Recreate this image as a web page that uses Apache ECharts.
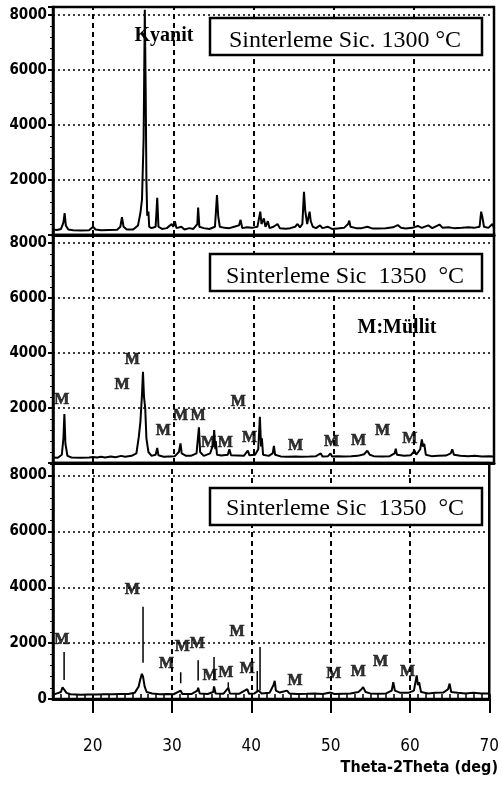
<!DOCTYPE html>
<html>
<head>
<meta charset="utf-8">
<script src="https://cdn.jsdelivr.net/npm/echarts@6/dist/echarts.min.js"></script>
<style>
  html, body { margin: 0; padding: 0; background: #fff; }
  #chart { width: 502px; height: 786px; }
</style>
</head>
<body>
<div id="chart"></div>
<script>
// 2θ range and tick values
const thetaMin = 15;
const thetaMax = 70;
const xTickValues = [20, 30, 40, 50, 60, 70];
const xGridValues = [20, 30, 40, 50, 60];
const yTickValues = [0, 2000, 4000, 6000, 8000];

// XRD scan, sintered at 1300 °C: [2θ (deg), counts]
const scan1300 = [
  [15.0,200],[15.5,180],[16.0,220],[16.3,450],[16.45,800],[16.6,350],[16.9,200],[17.5,170],[18.5,160],[19.5,170],
  [20.0,300],[20.3,200],[21.0,170],[22.0,180],[23.0,190],[23.4,300],[23.6,650],[23.8,300],[24.2,200],[25.0,200],
  [25.6,350],[25.9,800],[26.1,1300],[26.3,3500],[26.45,8200],[26.55,5500],[26.65,2000],[26.75,700],[26.9,850],[27.0,300],
  [27.3,250],[27.8,300],[28.0,1350],[28.15,300],[28.6,220],[29.2,250],[29.8,400],[30.0,300],[30.2,500],[30.4,250],
  [31.0,300],[31.4,200],[32.0,250],[32.5,220],[33.0,400],[33.1,1000],[33.25,300],[33.8,250],[34.5,220],[35.2,300],
  [35.45,1450],[35.6,700],[35.8,300],[36.4,260],[37.0,250],[37.6,300],[38.2,350],[38.4,550],[38.6,250],[39.2,280],
  [39.8,260],[40.5,300],[40.85,850],[41.0,400],[41.3,600],[41.5,300],[41.8,500],[42.0,250],[42.5,300],[43.0,400],
  [43.3,250],[44.0,230],[44.6,250],[45.2,300],[45.5,400],[45.8,280],[46.1,400],[46.3,1570],[46.45,900],[46.7,400],
  [47.0,850],[47.15,500],[47.4,300],[47.8,250],[48.3,350],[48.6,250],[49.3,300],[49.8,220],[50.5,240],[51.3,260],
  [51.8,400],[51.95,520],[52.1,300],[52.8,250],[53.5,250],[54.2,300],[54.8,240],[55.5,240],[56.5,250],[57.4,280],
  [58.0,360],[58.4,260],[59.0,240],[59.8,260],[60.5,330],[61.0,260],[61.8,350],[62.3,250],[63.2,380],[63.6,260],
  [64.3,280],[65.0,250],[66.0,260],[66.8,280],[67.5,260],[68.2,300],[68.4,850],[68.55,650],[68.75,300],[69.3,260],
  [69.8,400],[70.0,250]
];

// XRD scan, sintered at 1350 °C (middle panel)
const scan1350a = [
  [15.0,200],[15.6,190],[16.1,300],[16.3,900],[16.42,1780],[16.55,700],[16.8,260],[17.3,200],[18.5,190],[19.5,200],
  [20.0,220],[20.5,200],[21.0,230],[21.5,200],[22.2,240],[22.8,210],[23.5,260],[24.0,230],[24.8,260],[25.4,350],
  [25.7,950],[25.9,1500],[26.1,2500],[26.22,3320],[26.35,2400],[26.5,2000],[26.65,900],[26.9,400],[27.3,260],[27.8,300],
  [28.0,545],[28.15,280],[28.8,230],[29.5,240],[30.2,250],[30.7,400],[30.9,715],[31.05,350],[31.6,260],[32.2,260],
  [32.9,350],[33.2,1300],[33.35,400],[33.8,260],[34.6,350],[35.0,700],[35.1,1200],[35.25,500],[35.3,800],[35.45,300],
  [36.0,270],[36.8,300],[37.0,500],[37.2,280],[38.0,270],[38.8,260],[39.3,450],[39.5,280],[40.2,300],[40.6,500],
  [40.8,1680],[40.95,600],[41.05,900],[41.2,300],[41.9,260],[42.4,350],[42.55,620],[42.7,300],[43.4,240],[44.3,230],
  [45.2,240],[46.0,230],[47.0,240],[47.8,250],[48.4,350],[48.6,240],[49.3,250],[49.6,350],[49.8,240],[50.5,250],
  [51.3,240],[52.2,250],[53.0,260],[53.8,320],[54.2,450],[54.5,300],[55.0,250],[56.0,240],[57.0,250],[57.6,350],
  [57.75,520],[57.9,300],[58.8,260],[59.6,280],[60.1,450],[60.3,300],[60.8,500],[61.0,860],[61.15,600],[61.3,700],
  [61.5,300],[62.2,250],[63.0,260],[64.0,270],[64.6,350],[64.8,500],[65.0,300],[65.8,260],[66.8,250],[67.6,260],
  [68.5,240],[69.4,250],[70.0,240]
];

// XRD scan, sintered at 1350 °C (bottom panel)
const scan1350b = [
  [15.0,150],[15.5,200],[16.0,250],[16.2,420],[16.45,425],[16.7,220],[17.2,170],[18.5,150],[19.5,160],[20.5,160],
  [21.5,170],[22.5,170],[23.5,180],[24.5,180],[25.3,220],[25.8,450],[26.0,700],[26.2,900],[26.35,800],[26.55,450],
  [26.8,250],[27.5,200],[28.5,170],[29.5,180],[30.2,170],[31.1,300],[31.3,180],[32.5,180],[33.2,300],[33.3,400],
  [33.5,200],[34.5,180],[35.2,250],[35.3,450],[35.5,200],[36.5,190],[37.1,400],[37.3,200],[38.5,190],[39.5,350],
  [39.7,190],[40.4,200],[40.9,300],[41.3,200],[42.3,220],[42.8,500],[42.95,650],[43.1,300],[43.6,230],[44.5,300],
  [44.8,200],[45.8,180],[47.0,190],[48.0,200],[49.0,180],[50.0,230],[50.5,180],[51.5,190],[52.5,200],[53.5,250],
  [53.9,350],[54.1,425],[54.4,250],[55.0,200],[56.0,190],[57.0,200],[57.7,300],[57.9,600],[58.1,300],[58.8,220],
  [59.8,220],[60.5,300],[60.85,845],[61.0,500],[61.15,600],[61.4,250],[62.3,200],[63.2,220],[64.2,230],[64.8,350],
  [65.0,550],[65.2,250],[66.0,220],[67.0,200],[68.0,220],[69.0,200],[70.0,200]
];

// Reflection sticks over the bottom scan: [2θ, low counts, high counts]
const sticks1350b = [
  [16.4,680,1680],[26.35,1300,3300],[31.1,560,960],[33.3,665,1385],[35.3,665,1500],
  [37.1,400,600],[40.75,280,1000],[41.1,300,1860]
];

// Mullite ("M") peak tags: [2θ, counts]
const mullite1350a = [
  [16.1,2290],[24.9,3745],[23.6,2836],[28.75,1164],[30.9,1710],[33.1,1710],[34.4,727],[36.5,727],
  [38.1,2218],[39.5,910],[45.25,618],[49.75,764],[53.1,800],[56.1,1164],[59.5,873]
];
const mullite1350b = [
  [16.1,2100],[25.0,3890],[29.3,1260],[31.3,1857],[33.2,1978],[38.2,2394],[34.8,842],[36.8,925],
  [39.5,1082],[45.5,663],[50.4,903],[53.5,961],[56.3,1344],[59.7,961]
];

const panelTitles = ['Sinterleme Sic. 1300 °C', 'Sinterleme Sic  1350  °C', 'Sinterleme Sic  1350  °C'];

const narrow = "'Liberation Sans Narrow', 'DejaVu Sans Condensed', sans-serif";
const serif = "'Liberation Serif', 'DejaVu Serif', serif";

const grids = [
  { left: 53, right: 8, top: 7, height: 228 },
  { left: 53, right: 8, top: 235, height: 228 },
  { left: 53, right: 8, top: 463, height: 236 }
];
const yMaxes = [8300, 8300, 8450];

function stickData(list) {
  const out = [];
  list.forEach(([t, lo, hi]) => { out.push([t, lo], [t, hi], [t, '-']); });
  return out;
}

const xAxes = grids.map((g, i) => ({
  type: 'value', gridIndex: i, min: thetaMin, max: thetaMax, interval: 5,
  axisLine: { show: true, onZero: false, lineStyle: { color: '#000', width: 3 } },
  axisTick: i === 2
    ? { show: true, customValues: xTickValues, length: 14, lineStyle: { color: '#000', width: 2 } }
    : { show: false },
  axisLabel: i === 2
    ? { show: true, customValues: xTickValues, margin: 39, color: '#000', fontFamily: narrow, fontSize: 17,
        formatter: v => (xTickValues.includes(v) ? String(v) : '') }
    : { show: false },
  splitLine: { show: false }
}));
// 1° minor ticks under the bottom panel
xAxes.push({
  type: 'value', gridIndex: 2, min: thetaMin, max: thetaMax, interval: 1,
  axisLine: { show: false }, axisLabel: { show: false }, splitLine: { show: false },
  axisTick: { show: true, length: 5, lineStyle: { color: '#000', width: 1.5 } }
});

const yAxes = grids.map((g, i) => ({
  type: 'value', gridIndex: i, min: 0, max: yMaxes[i], interval: 2000,
  axisLine: { show: true, lineStyle: { color: '#000', width: 2.5 } },
  axisTick: { show: true, length: 5, lineStyle: { color: '#000', width: 2 } },
  minorTick: { show: true, splitNumber: 5, length: 3, lineStyle: { color: '#000', width: 1 } },
  axisLabel: {
    show: true, margin: 6, color: '#000', fontFamily: narrow, fontSize: 15, fontWeight: 'bold',
    showMaxLabel: false,
    formatter: v => (yTickValues.includes(v) && (v !== 0 || i === 2) ? String(v) : '')
  },
  splitLine: { show: true, lineStyle: { color: '#000', width: 1.5, type: [2, 3] } }
}));

const scans = [scan1300, scan1350a, scan1350b];
const series = [];
scans.forEach((data, i) => {
  series.push({
    type: 'line', xAxisIndex: i, yAxisIndex: i, data, symbol: 'none', showSymbol: false,
    lineStyle: { color: '#000', width: 2 }, z: 5,
    markLine: {
      silent: true, symbol: 'none', animation: false, label: { show: false },
      lineStyle: { color: '#000', width: 2, type: [5, 4] },
      data: xGridValues.map(v => ({ xAxis: v }))
    }
  });
});
series.push({
  type: 'line', xAxisIndex: 2, yAxisIndex: 2, data: stickData(sticks1350b), symbol: 'none',
  connectNulls: false, lineStyle: { color: '#000', width: 1.5 }, z: 5
});

function tagSeries(idx, data) {
  return {
    type: 'scatter', xAxisIndex: idx, yAxisIndex: idx, data, symbolSize: 1, silent: true,
    itemStyle: { color: 'rgba(0,0,0,0)' }, z: 6,
    label: { show: true, position: 'inside', formatter: 'M', color: '#000',
      textBorderColor: '#000', textBorderWidth: 0.6,
      fontFamily: serif, fontWeight: 'bold', fontSize: 16 }
  };
}
series.push(tagSeries(1, mullite1350a));
series.push(tagSeries(2, mullite1350b));

const boxTops = [18, 254, 488];
const textCenters = [41, 277, 509];
const graphic = [];
boxTops.forEach((top, i) => {
  graphic.push({
    type: 'rect', z: 100, shape: { x: 210, y: top, width: 272, height: 37 },
    style: { fill: '#fff', stroke: '#000', lineWidth: 2.5 }
  });
  graphic.push({
    type: 'text', z: 101, x: 345, y: textCenters[i],
    style: { text: panelTitles[i], fill: '#000', font: '24px ' + serif, align: 'center', verticalAlign: 'middle' }
  });
});
graphic.push({
  type: 'text', z: 101, x: 164, y: 36,
  style: { text: 'Kyanit', fill: '#000', font: 'bold 20px ' + serif, align: 'center', verticalAlign: 'middle' }
});
graphic.push({
  type: 'text', z: 101, x: 397, y: 328,
  style: { text: 'M:Müllit', fill: '#000', font: 'bold 20px ' + serif, align: 'center', verticalAlign: 'middle' }
});
graphic.push({
  type: 'text', z: 101, x: 498, y: 768,
  style: { text: 'Theta-2Theta (deg)', fill: '#000', font: 'bold 16px ' + narrow, align: 'right', verticalAlign: 'middle' }
});

const chart = echarts.init(document.getElementById('chart'), null, { renderer: 'canvas' });
chart.setOption({
  animation: false,
  backgroundColor: '#fff',
  grid: grids.map(g => Object.assign({ show: true, borderColor: '#000', borderWidth: 2.5, backgroundColor: 'transparent' }, g)),
  xAxis: xAxes,
  yAxis: yAxes,
  series,
  graphic
});
</script>
</body>
</html>
